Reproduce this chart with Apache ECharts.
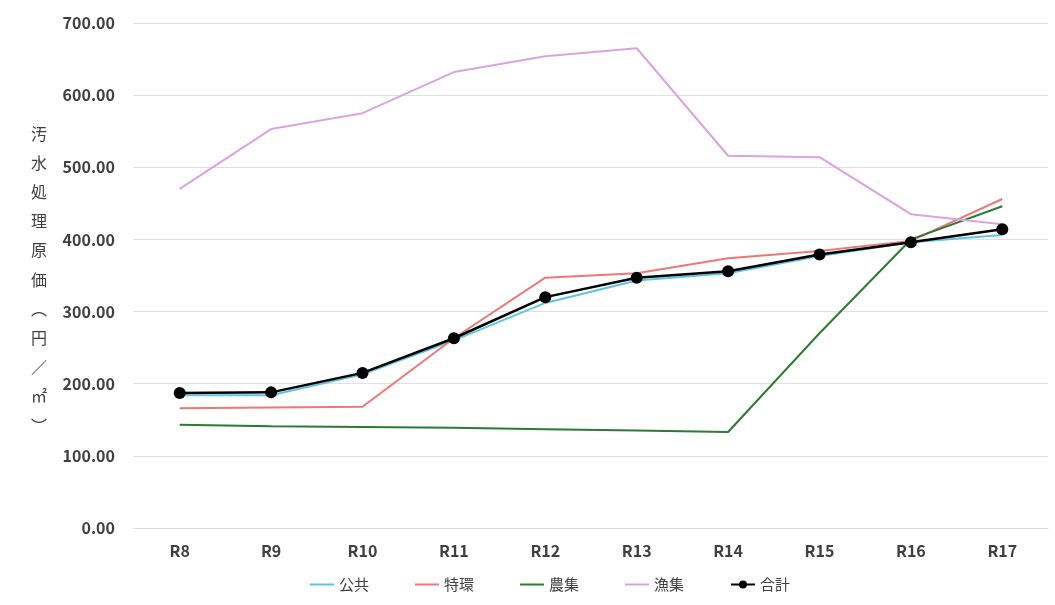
<!DOCTYPE html>
<html>
<head>
<meta charset="utf-8">
<script src="https://cdn.jsdelivr.net/npm/echarts@6/dist/echarts.min.js"></script>
<style>
  html, body { margin: 0; padding: 0; background: #fff; }
  #chart { width: 1055px; height: 605px; }
</style>
</head>
<body>
<div id="chart"></div>
<script>
// 年度
const years = ['R8', 'R9', 'R10', 'R11', 'R12', 'R13', 'R14', 'R15', 'R16', 'R17'];

// 汚水処理原価（円／㎡）
const koukyou = [184, 184, 213, 260, 312, 343, 353, 377, 396, 406];
const tokkan  = [166, 167, 168, 263, 347, 353, 374, 384, 398, 456];
const noushu  = [143, 141, 140, 139, 137, 135, 133, 270, 400, 446];
const gyoshu  = [470, 553, 575, 632, 654, 665, 516, 514, 435, 421];
const goukei  = [187, 188, 215, 263, 320, 347, 356, 379, 396, 414];

const yAxisTitle = ['汚', '水', '処', '理', '原', '価', '︵', '円', '／', '㎡', '︶'];

const font = '"Noto Sans CJK JP", "Noto Sans", sans-serif';
const lineIcon = 'path://M0,0 L24,0 L24,2 L0,2 Z';

function lineSeries(name, data, color, width) {
  return {
    name, type: 'line', data,
    symbol: 'none',
    lineStyle: { color, width: width || 2 },
    itemStyle: { color },
    animation: false
  };
}

const chart = echarts.init(document.getElementById('chart'));
chart.setOption({
  backgroundColor: '#fff',
  textStyle: { fontFamily: font },
  grid: { left: 134, right: 7, top: 23, bottom: 77 },
  legend: {
    bottom: 8,
    left: 305,
    itemGap: 46,
    itemWidth: 24,
    itemHeight: 10,
    textStyle: { fontSize: 15, color: '#404040', fontFamily: font },
    data: [
      { name: '公共', icon: lineIcon },
      { name: '特環', icon: lineIcon },
      { name: '農集', icon: lineIcon },
      { name: '漁集', icon: lineIcon },
      { name: '合計' }
    ]
  },
  xAxis: {
    type: 'category',
    data: years,
    boundaryGap: true,
    axisLine: { lineStyle: { color: '#d9d9d9' } },
    axisTick: { show: false },
    axisLabel: { color: '#404040', fontSize: 16, fontWeight: 600, margin: 15 }
  },
  yAxis: {
    type: 'value',
    min: 0, max: 700, interval: 100,
    axisLine: { show: false },
    axisTick: { show: false },
    splitLine: { lineStyle: { color: '#e0e0e0', width: 1 } },
    axisLabel: {
      color: '#404040', fontSize: 16, fontWeight: 600, margin: 19,
      formatter: v => v.toFixed(2)
    }
  },
  graphic: [{
    type: 'text',
    left: 31,
    top: 119,
    style: {
      text: yAxisTitle.join('\n'),
      font: '16px ' + font,
      fill: '#404040',
      lineHeight: 29.2,
      textAlign: 'center'
    }
  }],
  series: [
    lineSeries('公共', koukyou, '#5cc5e6'),
    lineSeries('特環', tokkan, '#f07777'),
    lineSeries('農集', noushu, '#2e7a32'),
    lineSeries('漁集', gyoshu, '#dba3e0'),
    {
      name: '合計', type: 'line', data: goukei,
      symbol: 'circle', symbolSize: 12,
      lineStyle: { color: '#000', width: 2.5 },
      itemStyle: { color: '#000' },
      animation: false
    }
  ]
});
</script>
</body>
</html>
